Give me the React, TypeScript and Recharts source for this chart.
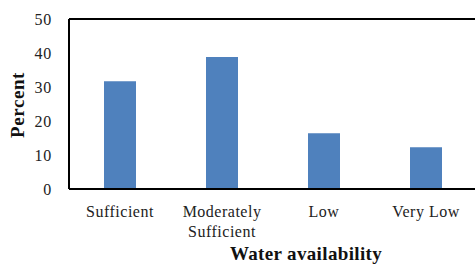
import { BarChart, Bar, XAxis, YAxis, ReferenceLine, Label } from 'recharts';

// categories (line breaks mark wrapped labels)
const categories = ['Sufficient', 'Moderately\nSufficient', 'Low', 'Very Low'];
// percent of respondents
const percentValues = [31.7, 38.8, 16.4, 12.3];
const yTicks = [0, 10, 20, 30, 40, 50];

const data = categories.map((name, i) => ({ name, percent: percentValues[i] }));

const font = '"Liberation Serif", "Times New Roman", serif';

function CategoryTick(props: any) {
  const { x, y, payload } = props;
  const lines = String(payload.value).split('\n');
  return (
    <text
      x={x}
      y={y + 28}
      textAnchor="middle"
      style={{ fontFamily: font, fontSize: 16, letterSpacing: 0.5 }}
      fill="#222"
    >
      {lines.map((line, i) => (
        <tspan key={i} x={x} dy={i === 0 ? 0 : 20}>
          {line}
        </tspan>
      ))}
    </text>
  );
}

function PercentLabel() {
  return (
    <text
      x={17}
      y={105}
      transform="rotate(-90, 17, 105)"
      textAnchor="middle"
      dominantBaseline="central"
      style={{ fontFamily: font, fontSize: 19, fontWeight: 'bold', letterSpacing: 0.6 }}
      fill="#111"
    >
      Percent
    </text>
  );
}

function WaterLabel() {
  return (
    <text
      x={306}
      y={260}
      textAnchor="middle"
      style={{ fontFamily: font, fontSize: 19, fontWeight: 'bold', letterSpacing: 0.35 }}
      fill="#111"
    >
      Water availability
    </text>
  );
}

export default function App() {
  return (
    <div style={{ position: 'absolute', left: 0, top: 0, width: 475, height: 265, overflow: 'hidden', background: '#fff' }}>
      <BarChart
        width={490}
        height={265}
        data={data}
        margin={{ top: 19, right: 13, bottom: 0, left: 0 }}
        style={{ fontFamily: font }}
      >
        <XAxis
          dataKey="name"
          height={76}
          axisLine={{ stroke: '#000', strokeWidth: 2 }}
          tickLine={false}
          tickSize={0}
          tickMargin={0}
          tick={<CategoryTick />}
          interval={0}
        >
          <Label content={<WaterLabel />} />
        </XAxis>
        <YAxis
          width={69}
          domain={[0, 50]}
          ticks={yTicks}
          interval={0}
          axisLine={{ stroke: '#000', strokeWidth: 2 }}
          tickLine={false}
          tickSize={0}
          tickMargin={17}
          tick={{ fontSize: 16, fill: '#222', letterSpacing: 0.8, style: { fontFamily: font } }}
        >
          <Label content={<PercentLabel />} />
        </YAxis>
        <ReferenceLine y={50} stroke="#000" strokeWidth={2} />
        <Bar dataKey="percent" fill="#4F81BD" barSize={32} isAnimationActive={false} />
      </BarChart>
    </div>
  );
}
